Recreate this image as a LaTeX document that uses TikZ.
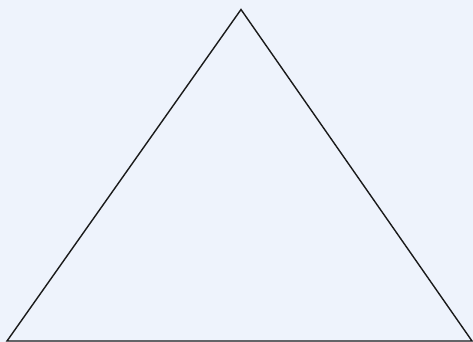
\documentclass[tikz,border=0pt]{standalone}
\usepackage{tikz}
\usepackage{xcolor}
\definecolor{bgblue}{HTML}{EEF3FC}
\definecolor{edgegray}{HTML}{1A1A1A}

\begin{document}
\begin{tikzpicture}[x=1pt, y=-1pt,
  side/.style={draw=edgegray, line width=1.4pt, line join=miter}]
\fill[bgblue] (0,0) rectangle (473,342);
\useasboundingbox (0,0) rectangle (473,342);
\coordinate (apex) at (241,9.5);
\coordinate (left) at (7,341);
\coordinate (right) at (472,341);
\draw[side] (left) -- (apex) -- (right) -- cycle;
\end{tikzpicture}
\end{document}
